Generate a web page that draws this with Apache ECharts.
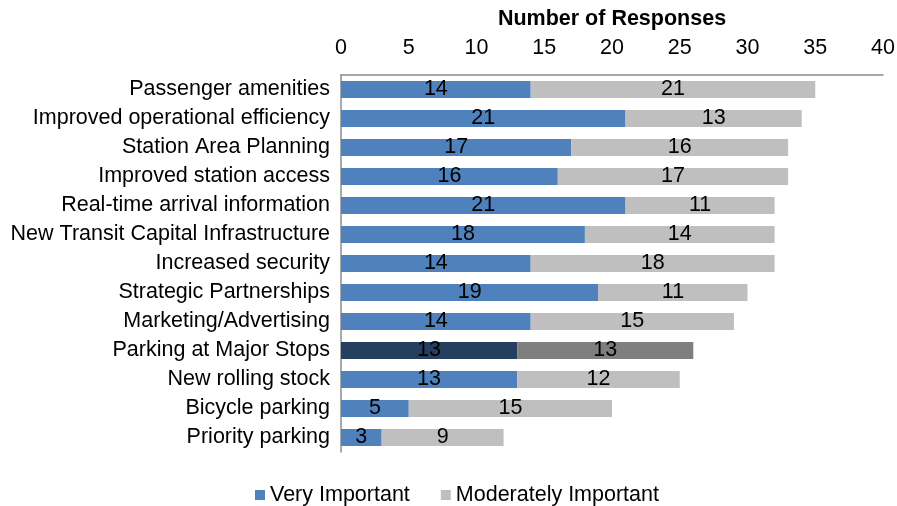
<!DOCTYPE html>
<html><head><meta charset="utf-8">
<script src="https://cdn.jsdelivr.net/npm/echarts@6/dist/echarts.min.js"></script>
<style>html,body{margin:0;padding:0;background:#fff}#c{width:897px;height:506px}</style>
</head><body><div id="c"></div>
<script>
const categories = ["Passenger amenities","Improved operational efficiency","Station Area Planning","Improved station access","Real-time arrival information","New Transit Capital Infrastructure","Increased security","Strategic Partnerships","Marketing/Advertising","Parking at Major Stops","New rolling stock","Bicycle parking","Priority parking"];
const veryImportant = [14,21,17,16,21,18,14,19,14,13,13,5,3];
const moderatelyImportant = [21,13,16,17,11,14,18,11,15,13,12,15,9];
const highlightCategory = "Parking at Major Stops";

const FONT = "Liberation Sans, Arial, sans-serif";
const FS = 21.5;
const mk = (vals, base, hi) => vals.map((v, i) => categories[i] === highlightCategory ? {value: v, itemStyle: {color: hi}} : {value: v, itemStyle: {color: base}});

const chart = echarts.init(document.getElementById('c'));
chart.setOption({
  animation: false,
  textStyle: {fontFamily: FONT},
  grid: {left: 341, right: 14, top: 75, bottom: 54, containLabel: false, outerBoundsMode: 'none'},
  xAxis: {
    type: 'value', position: 'top', min: 0, max: 40, interval: 5,
    name: 'Number of Responses', nameLocation: 'middle', nameGap: 45,
    nameTextStyle: {fontFamily: FONT, fontSize: FS, fontWeight: 'bold', color: '#000'},
    axisLine: {show: true, lineStyle: {color: '#8c8c8c', width: 1.5}},
    axisTick: {show: false},
    splitLine: {show: false},
    axisLabel: {fontFamily: FONT, fontSize: FS, color: '#000', margin: 16}
  },
  yAxis: {
    type: 'category', data: categories, inverse: true,
    axisLine: {show: true, lineStyle: {color: '#8c8c8c', width: 1.5}},
    axisTick: {show: false},
    axisLabel: {fontFamily: FONT, fontSize: FS, color: '#000', margin: 11}
  },
  legend: {
    bottom: 0, left: 250, itemWidth: 10, itemHeight: 10, itemGap: 31,
    icon: 'rect', padding: [0, 5, 0, 5],
    textStyle: {fontFamily: FONT, fontSize: FS, color: '#000'},
    data: [{name: 'Very Important', itemStyle: {color: '#4F81BD'}}, {name: 'Moderately Important', itemStyle: {color: '#BFBFBF'}}]
  },
  series: [
    {name: 'Very Important', type: 'bar', stack: 's', barWidth: 17, color: '#4F81BD',
     data: mk(veryImportant, '#4F81BD', '#243F60'),
     label: {show: true, position: 'inside', color: '#000', fontFamily: FONT, fontSize: FS}},
    {name: 'Moderately Important', type: 'bar', stack: 's', barWidth: 17, color: '#BFBFBF',
     data: mk(moderatelyImportant, '#BFBFBF', '#7F7F7F'),
     label: {show: true, position: 'inside', color: '#000', fontFamily: FONT, fontSize: FS}}
  ]
});
</script></body></html>
